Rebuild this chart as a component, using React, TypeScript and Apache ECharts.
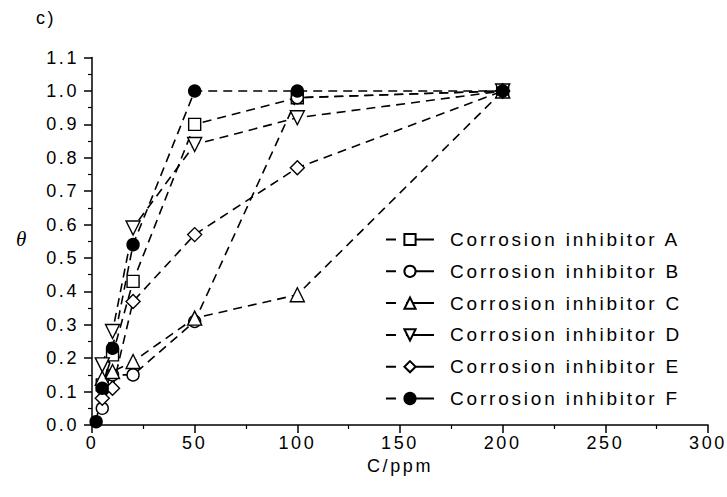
import React, { useEffect, useRef } from "react";
import * as echarts from "echarts";

const seriesNames = [
  "Corrosion inhibitor A",
  "Corrosion inhibitor B",
  "Corrosion inhibitor C",
  "Corrosion inhibitor D",
  "Corrosion inhibitor E",
  "Corrosion inhibitor F",
];

const concA = [5, 10, 20, 50, 100, 200];
const thetaA = [0.12, 0.21, 0.43, 0.9, 0.98, 1.0];

const concB = [5, 10, 20, 50, 100, 200];
const thetaB = [0.05, 0.15, 0.15, 0.31, 0.98, 1.0];

const concC = [5, 10, 20, 50, 100, 200];
const thetaC = [0.14, 0.16, 0.19, 0.32, 0.39, 1.0];

const concD = [5, 10, 20, 50, 100, 200];
const thetaD = [0.18, 0.28, 0.59, 0.84, 0.92, 1.0];

const concE = [5, 10, 20, 50, 100, 200];
const thetaE = [0.08, 0.11, 0.37, 0.57, 0.77, 1.0];

const concF = [2, 5, 10, 20, 50, 100, 200];
const thetaF = [0.01, 0.11, 0.23, 0.54, 1.0, 1.0, 1.0];

const symbols = ["rect", "circle", "triangle", "triangle", "diamond", "circle"];
const rotations = [0, 0, 0, 180, 0, 0];
const fills = ["#fff", "#fff", "#fff", "#fff", "#fff", "#000"];
const sizes = [12, 12, 14, 14, 14, 12];

const xTicks = { min: 0, max: 300, interval: 50 };
const yTicks = { min: 0, max: 1.1, interval: 0.1 };

export default function App() {
  const ref = useRef<HTMLDivElement>(null);

  useEffect(() => {
    if (!ref.current) return;
    const chart = echarts.init(ref.current, null, { renderer: "svg" });
    const concs = [concA, concB, concC, concD, concE, concF];
    const thetas = [thetaA, thetaB, thetaC, thetaD, thetaE, thetaF];
    const font = "'Liberation Sans', Arial, sans-serif";

    const series = seriesNames.map((name, i) => ({
      name,
      type: "line",
      data: concs[i].map((c, j) => [c, thetas[i][j]]),
      symbol: symbols[i],
      symbolRotate: rotations[i],
      symbolSize: sizes[i],
      showAllSymbol: true,
      lineStyle: { color: "#000", width: 1.6, type: [9, 6] },
      itemStyle: { color: fills[i], borderColor: "#000", borderWidth: 1.4 },
      z: 2,
    }));

    chart.setOption({
      animation: false,
      backgroundColor: "#fff",
      grid: { left: 92, right: 19, top: 57.6, bottom: 72 },
      xAxis: {
        type: "value",
        ...xTicks,
        name: "C/ppm",
        nameLocation: "middle",
        nameGap: 32,
        nameTextStyle: { color: "#000", fontSize: 18, fontFamily: font },
        axisLine: { show: true, onZero: false, lineStyle: { color: "#000", width: 1.5 } },
        axisTick: { show: true, inside: false, length: 8, lineStyle: { color: "#000", width: 1.5 } },
        minorTick: { show: true, splitNumber: 2, length: 4, lineStyle: { color: "#000", width: 1.2 } },
        splitLine: { show: false },
        axisLabel: { color: "#000", fontSize: 18, fontFamily: font, margin: 9 },
      },
      yAxis: {
        type: "value",
        ...yTicks,
        axisLine: { show: true, onZero: false, lineStyle: { color: "#000", width: 1.5 } },
        axisTick: { show: true, inside: false, length: 8, lineStyle: { color: "#000", width: 1.5 } },
        minorTick: { show: true, splitNumber: 2, length: 4, lineStyle: { color: "#000", width: 1.2 } },
        splitLine: { show: false },
        axisLabel: {
          color: "#000",
          fontSize: 18,
          fontFamily: font,
          margin: 13,
          formatter: (v: number) => v.toFixed(1),
        },
      },
      legend: {
        orient: "vertical",
        left: 380,
        top: 225,
        itemWidth: 48,
        itemHeight: 14,
        itemGap: 12.8,
        lineStyle: { type: [10, 10, 28, 0] },
        textStyle: { color: "#000", fontSize: 19, fontFamily: font, lineHeight: 18, padding: [0, 0, 0, 11] },
        data: seriesNames,
      },
      graphic: [
        {
          type: "text",
          left: 36,
          top: 9,
          style: { text: "c)", fill: "#000", font: `18px ${font}` },
        },
        {
          type: "text",
          left: 16,
          top: 228,
          style: { text: "θ", fill: "#000", font: "italic 21px 'Liberation Serif', 'DejaVu Serif', serif" },
        },
      ],
      series,
    });

    return () => chart.dispose();
  }, []);

  return (
    <div className="chartbox">
      <style>{`body{margin:0} .chartbox text{letter-spacing:2.6px} .chartbox text[style*="19px"]{letter-spacing:2.8px}`}</style>
      <div
        ref={ref}
        style={{ position: "absolute", left: 0, top: 0, width: 727, height: 497 }}
      />
    </div>
  );
}
